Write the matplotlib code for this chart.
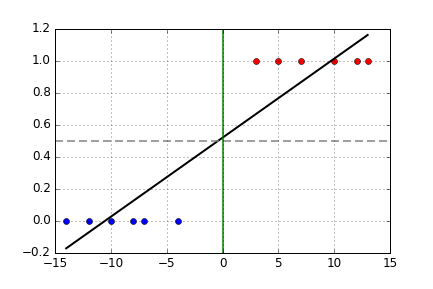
import numpy as np
import matplotlib
matplotlib.use('Agg')
import matplotlib.pyplot as plt

# class 0 and class 1 points
x_neg = [-14, -12, -10, -8, -7, -4]
y_neg = [0, 0, 0, 0, 0, 0]
x_pos = [3, 5, 7, 10, 12, 13]
y_pos = [1, 1, 1, 1, 1, 1]

threshold = 0.5
boundary = 0

plt.style.use('classic')
plt.rcParams['lines.scale_dashes'] = False

x_all = np.array(x_neg + x_pos)
y_all = np.array(y_neg + y_pos)
slope, intercept = np.polyfit(x_all, y_all, 1)  # least squares fit

fig = plt.figure(figsize=(433/72, 289/72), dpi=72, facecolor='white')
ax = fig.add_axes([55/433, 1 - 253/289, (390-55)/433, (253-29)/289])

ax.plot(x_neg, y_neg, 'bo')
ax.plot(x_pos, y_pos, 'ro')
xs = np.array([x_all.min(), x_all.max()])
ax.plot(xs, slope*xs + intercept, 'k-', linewidth=2)
ax.axhline(threshold, color='gray', linestyle='--', dashes=(8, 4), linewidth=1.5)
ax.axvline(boundary, color='g', linewidth=1.5)

ax.set_xlim(-15, 15)
ax.set_ylim(-0.2, 1.2)
ax.grid(True)

fig.savefig('out.png', dpi=72, facecolor='white')
